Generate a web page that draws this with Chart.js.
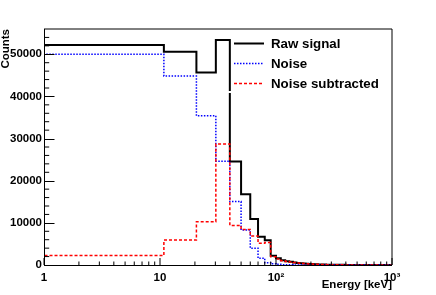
<!DOCTYPE html>
<html>
<head>
<meta charset="utf-8">
<script src="https://cdn.jsdelivr.net/npm/chart.js@4/dist/chart.umd.min.js"></script>
<style>
html,body{margin:0;padding:0;background:#fff;}
canvas{display:block;}
</style>
</head>
<body>
<canvas id="c" width="436" height="295" style="width:436px;height:295px"></canvas>
<script>
// ---- data ----
const binEdges = [1, 10.8, 20.6, 30.3, 40, 50, 60, 70, 80, 90, 100, 110, 120, 130, 140, 150, 160, 170, 180, 190, 200, 210, 220, 230, 240, 250, 260, 270, 280, 290, 300, 400, 500, 600, 700, 800, 900, 1000];
const rawSignal = [52200, 50600, 45700, 53400, 24560, 16800, 10900, 6700, 5900, 2200, 1600, 1100, 900, 750, 600, 500, 420, 350, 300, 250, 220, 190, 160, 140, 120, 100, 90, 80, 70, 60, 40, 20, 10, 5, 3, 2, 1];
const noise = [50000, 44850, 35430, 24610, 15050, 8300, 3970, 1590, 550, 300, 150, 80, 50, 30, 20, 10, 10, 5, 5, 0, 0, 0, 0, 0, 0, 0, 0, 0, 0, 0, 0, 0, 0, 0, 0, 0, 0];
const noiseSubtracted = [2250, 5930, 10280, 28700, 9400, 8450, 6900, 5150, 5350, 1950, 1450, 1020, 850, 720, 580, 490, 410, 345, 295, 250, 220, 190, 160, 140, 120, 100, 90, 80, 70, 60, 40, 20, 10, 5, 3, 2, 1];
const seriesNames = ['Raw signal', 'Noise', 'Noise subtracted'];
const xTickValues = [1, 10, 100, 1000];
const xTickLabels = ['1', '10', '10\u00B2', '10\u00B3'];
const xMinorTicks = [2, 3, 4, 5, 6, 7, 8, 9, 20, 30, 40, 50, 60, 70, 80, 90, 200, 300, 400, 500, 600, 700, 800, 900];
const yTickValues = [0, 10000, 20000, 30000, 40000, 50000];
const yMinorTicks = [2000, 4000, 6000, 8000, 12000, 14000, 16000, 18000, 22000, 24000, 26000, 28000, 32000, 34000, 36000, 38000, 42000, 44000, 46000, 48000, 52000, 54000];

// histogram outline points built from edges and values
function histPoints(vals) {
  const pts = [{x: binEdges[0], y: 0}];
  for (let i = 0; i < vals.length; i++) {
    pts.push({x: binEdges[i], y: vals[i]});
    pts.push({x: binEdges[i + 1], y: vals[i]});
  }
  return pts;
}

const FONT = '"Liberation Sans", Arial, Helvetica, sans-serif';

const styles = [
  {color: '#000000', width: 2, dash: []},
  {color: '#0000ff', width: 1.5, dash: [1.5, 1.5]},
  {color: '#ff0000', width: 1.5, dash: [3, 2]}
];

const rootPlugin = {
  id: 'rootStyle',
  afterDatasetsDraw(chart) {
    const ctx = chart.ctx;
    const a = chart.chartArea;
    const xs = chart.scales.x, ys = chart.scales.y;
    ctx.save();
    // white gap (legend box bottom edge)
    ctx.fillStyle = '#ffffff';
    ctx.fillRect(222, 91, 172, 2);
    // frame top/right
    ctx.strokeStyle = '#000';
    ctx.lineWidth = 1;
    ctx.beginPath();
    ctx.moveTo(a.left, a.top); ctx.lineTo(a.right, a.top);
    ctx.moveTo(a.right, a.top); ctx.lineTo(a.right, a.bottom);
    ctx.stroke();
    // axes
    ctx.beginPath();
    ctx.moveTo(a.left + 0.5, a.top); ctx.lineTo(a.left + 0.5, a.bottom + 0.5);
    ctx.moveTo(a.left, a.bottom + 0.5); ctx.lineTo(a.right, a.bottom + 0.5);
    ctx.stroke();
    // y ticks (inside)
    ctx.beginPath();
    yTickValues.forEach(v => { const p = Math.round(ys.getPixelForValue(v)) + 0.5; ctx.moveTo(a.left, p); ctx.lineTo(a.left + 10.5, p); });
    yMinorTicks.forEach(v => { const p = ys.getPixelForValue(v); ctx.moveTo(a.left, p); ctx.lineTo(a.left + 5.2, p); });
    // x ticks (inside)
    xTickValues.forEach(v => { const p = xs.getPixelForValue(v); ctx.moveTo(p, a.bottom); ctx.lineTo(p, a.bottom - 7); });
    xMinorTicks.forEach(v => { const p = xs.getPixelForValue(v); ctx.moveTo(p, a.bottom); ctx.lineTo(p, a.bottom - 3.5); });
    ctx.stroke();
    // legend
    const lx0 = 234, lx1 = 264, tx = 271;
    const ly = [43.5, 63.5, 83.5];
    seriesNames.forEach((name, i) => {
      const ds = chart.data.datasets.find(d => d.label === name);
      ctx.strokeStyle = ds.borderColor;
      ctx.lineWidth = ds.borderWidth;
      ctx.setLineDash(ds.borderDash || []);
      ctx.beginPath();
      ctx.moveTo(lx0, ly[i]); ctx.lineTo(lx1, ly[i]);
      ctx.stroke();
      ctx.setLineDash([]);
      ctx.fillStyle = '#000';
      ctx.font = 'bold 13.3px ' + FONT;
      ctx.textAlign = 'left';
      ctx.textBaseline = 'middle';
      ctx.fillText(name, tx, ly[i] + 0.5);
    });
    ctx.restore();
  }
};

new Chart(document.getElementById('c'), {
  type: 'line',
  data: {
    datasets: [rawSignal, noise, noiseSubtracted].map((vals, i) => ({
      label: seriesNames[i],
      data: histPoints(vals),
      borderColor: styles[i].color,
      borderWidth: styles[i].width,
      borderDash: styles[i].dash,
      pointRadius: 0,
      fill: false,
      tension: 0
    })).reverse()
  },
  options: {
    responsive: false,
    animation: false,
    devicePixelRatio: 1,
    layout: {padding: {top: 29, right: 44, left: 0, bottom: 0}},
    plugins: {legend: {display: false}, tooltip: {enabled: false}},
    scales: {
      x: {
        type: 'logarithmic', min: 1, max: 1000,
        afterFit: s => { s.height = 30; },
        afterBuildTicks: s => { s.ticks = xTickValues.map(v => ({value: v})); },
        grid: {display: false, drawTicks: false},
        border: {display: false},
        ticks: {
          autoSkip: false, maxRotation: 0, padding: 6, color: '#000',
          font: {family: FONT, size: 11.5, weight: 'bold'},
          callback: (v) => { const i = xTickValues.indexOf(v); return i >= 0 ? xTickLabels[i] : ''; }
        },
        title: {display: true, text: 'Energy [keV]', align: 'end', color: '#000',
          font: {family: FONT, size: 11.5, weight: 'bold', lineHeight: 1}, padding: {top: 0, bottom: 4}}
      },
      y: {
        min: 0, max: 56000,
        afterFit: s => { s.width = 44; },
        afterBuildTicks: s => { s.ticks = yTickValues.map(v => ({value: v})); },
        grid: {display: false, drawTicks: false},
        border: {display: false},
        ticks: {padding: 2, color: '#000', font: {family: FONT, size: 11.5, weight: 'bold'},
          callback: v => String(v)},
        title: {display: true, text: 'Counts', align: 'end', color: '#000',
          font: {family: FONT, size: 11.5, weight: 'bold', lineHeight: 1}, padding: {top: 0.5, bottom: 0}}
      }
    }
  },
  plugins: [rootPlugin]
});
</script>
</body>
</html>
